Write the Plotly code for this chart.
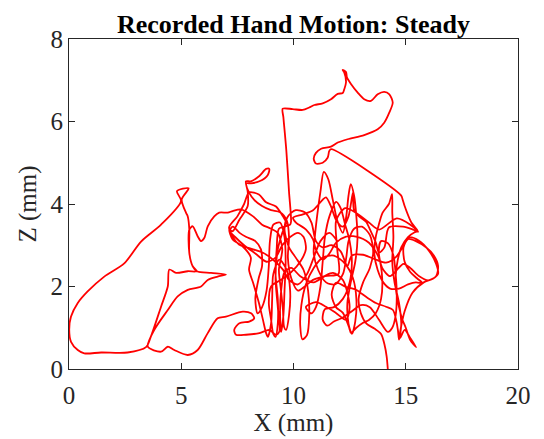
import plotly.graph_objects as go

# Recorded hand motion path (X mm, Z mm), in drawing order
seg_start = [
    (14.20, 0.00), (14.15, 0.30), (14.05, 0.60), (13.90, 0.85), (13.60, 0.98), (13.25, 1.10), (13.00, 1.35),
    (12.90, 1.70), (13.10, 2.10), (13.40, 2.45), (13.55, 2.85), (13.40, 3.25), (13.05, 3.45), (12.70, 3.40),
    (12.45, 3.10), (12.35, 2.70), (12.20, 2.30), (11.85, 2.05), (11.45, 2.10), (11.10, 2.40), (10.90, 2.80),
    (10.95, 3.20), (11.05, 3.70), (11.20, 4.30), (11.35, 4.78), (11.55, 4.60), (11.75, 4.10), (11.95, 3.60),
    (12.20, 3.30), (12.35, 3.70), (12.45, 4.20), (12.55, 4.48), (12.70, 4.20), (12.80, 3.70), (12.85, 3.15),
    (12.75, 2.60), (12.55, 2.10), (12.40, 1.60), (12.45, 1.10), (12.60, 0.85), (12.75, 1.15), (12.80, 1.70),
    (12.65, 2.20), (12.30, 2.55), (11.80, 2.75), (11.30, 2.70), (10.90, 2.45), (10.55, 2.05), (10.35, 1.55),
    (10.30, 1.05), (10.40, 0.72), (10.60, 0.82), (10.70, 1.30), (10.65, 1.90), (10.45, 2.40), (10.10, 2.70),
    (9.80, 2.95), (9.60, 3.40), (9.75, 3.70), (10.10, 3.85), (10.50, 3.80), (10.80, 3.55), (11.00, 3.10),
    (11.30, 2.95), (11.70, 3.00), (12.10, 2.85), (12.40, 2.50),
]
seg_weave = [
    (12.60, 2.75), (13.10, 2.77), (13.67, 2.65), (14.12, 2.58), (14.57, 2.72), (14.88, 2.97), (15.14, 3.19),
    (15.59, 3.11), (16.03, 2.87), (16.35, 2.55), (16.44, 2.31), (16.21, 2.19), (15.80, 2.10), (15.30, 1.85),
    (14.95, 1.40), (14.75, 0.90), (14.70, 0.71), (14.65, 0.95), (14.57, 1.19), (14.43, 1.43), (14.12, 1.51),
    (13.67, 1.60), (13.23, 1.75), (12.78, 1.92), (12.34, 1.99), (11.89, 2.09), (11.70, 1.80), (11.89, 1.50),
    (12.20, 1.36), (12.47, 1.02), (12.56, 0.88), (12.80, 1.00), (13.10, 1.12), (13.36, 1.19), (13.67, 1.36),
    (13.90, 1.70), (13.95, 2.20), (13.80, 2.70), (13.36, 3.06), (12.78, 3.21), (12.34, 3.21), (11.89, 3.06),
    (11.60, 2.80), (11.31, 2.65), (11.00, 2.89), (10.87, 3.14), (10.56, 3.38), (10.11, 3.55), (9.98, 3.67),
    (10.42, 3.75), (10.87, 3.85), (11.31, 4.11), (11.45, 4.16), (11.67, 3.94), (11.89, 3.62), (12.20, 3.45),
    (12.45, 3.70), (12.65, 4.28), (12.69, 3.87), (12.92, 3.70), (13.23, 3.57), (13.45, 3.33), (13.67, 3.06),
    (13.81, 2.82), (14.05, 2.95), (14.25, 3.43), (14.88, 3.45), (15.32, 3.38), (15.55, 3.33), (15.20, 3.50),
    (14.60, 3.65), (13.81, 3.38), (13.36, 3.55), (12.78, 3.79), (12.30, 3.90), (11.90, 3.60), (11.95, 2.90),
]
seg_a = [
    (12.00, 2.30), (11.40, 2.25), (10.90, 2.10), (10.30, 2.25), (9.90, 2.45), (9.60, 2.35), (9.45, 1.90),
    (9.40, 1.40), (9.45, 0.90), (9.55, 1.30), (9.60, 1.90), (9.65, 2.60), (9.60, 3.20), (9.40, 3.55),
    (9.10, 3.50), (8.95, 3.10), (8.90, 2.50), (8.80, 1.90), (8.60, 1.50), (8.40, 1.35), (8.30, 1.70),
    (8.45, 2.20), (8.60, 2.50), (8.55, 2.90), (8.30, 3.10), (7.90, 3.20), (7.60, 3.30), (7.30, 3.45),
    (7.15, 3.35), (7.40, 3.20), (7.80, 3.00), (8.30, 2.80), (8.80, 2.60), (9.20, 2.70), (9.50, 3.00),
    (9.85, 3.20), (10.20, 3.30), (10.45, 3.20), (10.55, 2.90), (10.30, 2.60), (9.90, 2.35), (9.40, 2.15),
    (9.00, 2.00), (8.90, 1.60), (9.00, 1.20), (9.10, 0.85), (9.20, 0.78), (9.30, 1.10), (9.30, 1.70),
    (9.20, 2.30), (9.25, 2.90), (9.35, 3.40), (9.60, 3.45), (9.85, 3.50), (9.89, 3.57),
]
seg_top = [
    (9.80, 4.30), (9.68, 5.30), (9.55, 6.10), (9.52, 6.31), (9.96, 6.30), (10.41, 6.28), (10.70, 6.34),
    (10.93, 6.40), (11.30, 6.44), (11.67, 6.54), (11.97, 6.67), (12.19, 6.69), (12.26, 6.78), (12.34, 6.95),
    (12.26, 7.19), (12.19, 7.25), (12.34, 7.20), (12.38, 7.07), (12.56, 6.91), (12.86, 6.70), (13.15, 6.54),
    (13.45, 6.50), (13.75, 6.66), (14.04, 6.72), (14.27, 6.66), (14.42, 6.46), (14.27, 6.22), (14.04, 5.97),
    (13.75, 5.81), (13.15, 5.67), (12.41, 5.57), (11.97, 5.49), (11.67, 5.39), (11.23, 5.34), (11.00, 5.24),
    (10.90, 5.10), (11.00, 4.98), (11.30, 5.00), (11.52, 5.12), (11.59, 5.28), (11.67, 5.33), (14.79, 4.21),
    (14.86, 4.11),
]
seg_right = [
    (14.95, 3.95), (15.25, 3.55), (15.53, 3.34), (15.38, 3.31), (15.10, 3.20), (14.80, 2.95), (14.60, 2.50),
    (14.55, 2.00), (14.70, 1.50), (14.85, 1.20), (15.00, 1.00), (15.20, 0.70), (15.46, 0.53), (15.20, 0.75),
    (14.95, 0.95), (14.75, 0.75), (14.80, 1.10), (14.70, 1.60), (14.50, 2.10), (14.40, 2.60), (14.45, 3.20),
    (14.40, 3.80), (14.39, 4.24), (14.25, 4.00), (13.97, 3.79), (13.80, 3.50), (13.67, 3.22), (13.60, 2.80),
    (13.75, 2.40), (14.00, 2.10), (14.30, 1.95), (14.70, 1.95), (15.10, 2.05), (15.45, 2.10), (15.75, 2.08),
    (15.50, 2.20), (15.20, 2.35), (14.95, 2.60), (14.90, 2.95), (15.10, 3.15), (15.45, 3.10), (15.90, 2.95),
    (16.25, 2.75), (16.44, 2.50), (16.35, 2.25), (16.00, 2.15), (15.60, 2.25), (15.20, 2.45), (14.90, 2.55),
    (14.60, 2.40), (14.30, 2.25), (13.95, 2.45), (13.80, 2.85), (13.90, 3.10), (14.20, 3.05), (14.45, 2.75),
    (14.55, 2.30), (14.60, 1.80), (14.55, 1.30), (14.40, 1.00), (14.20, 0.90), (13.80, 1.20), (13.40, 1.50),
    (13.00, 1.55), (12.60, 1.40), (12.20, 1.25), (11.80, 1.15), (11.50, 1.05), (11.30, 1.20), (11.40, 1.45),
    (11.80, 1.50), (12.20, 1.70), (12.50, 2.10), (12.60, 2.60), (12.50, 3.10), (12.30, 3.50), (12.10, 3.90),
    (11.90, 4.05), (11.60, 3.70), (11.40, 3.20), (11.30, 2.60), (11.20, 2.00), (11.00, 1.50), (10.80, 1.35),
    (10.55, 1.50), (11.00, 1.62), (11.45, 1.51), (11.89, 1.36), (12.34, 1.19), (12.50, 1.50), (12.20, 2.16),
    (11.76, 2.33), (11.31, 2.24), (10.87, 2.16), (10.50, 2.00),
]
seg_hook = [
    (10.20, 1.90), (9.90, 2.20), (9.75, 2.70), (9.80, 3.20), (9.70, 3.60), (9.40, 3.80), (9.00, 3.85),
    (8.60, 3.95), (8.25, 4.10), (8.03, 4.27), (7.90, 4.50), (8.10, 4.50), (8.48, 4.55), (8.85, 4.70),
    (8.92, 4.85), (8.78, 4.85), (8.48, 4.68), (8.10, 4.55), (7.88, 4.55), (7.96, 4.30), (7.96, 3.95),
    (7.59, 3.62), (7.29, 3.34), (7.14, 3.38), (7.29, 3.14), (7.74, 2.97), (8.10, 2.70), (8.02, 2.41),
    (8.20, 2.09), (8.33, 1.85), (8.46, 1.60), (8.64, 1.19), (8.78, 0.87), (8.86, 0.78), (9.00, 1.10),
    (9.05, 1.70), (9.10, 2.30), (9.37, 2.65), (9.70, 2.40), (9.85, 1.90), (9.80, 1.30), (9.67, 0.95),
    (9.58, 1.02), (9.53, 1.43), (9.44, 1.92), (9.35, 2.41), (9.50, 2.90), (9.30, 3.30), (9.00, 3.40),
    (8.60, 3.50), (8.20, 3.70), (7.66, 3.87),
]
seg_left = [
    (7.29, 3.83), (7.07, 3.79), (6.69, 3.79), (6.47, 3.70), (6.18, 3.46), (6.03, 3.18), (5.88, 3.10),
    (5.73, 3.22), (5.51, 3.46), (5.36, 3.38), (5.36, 2.81), (5.51, 2.49), (5.70, 2.37), (5.29, 2.37),
    (4.77, 2.33), (4.47, 2.41), (4.40, 2.00), (4.10, 1.51), (3.65, 0.79), (3.43, 0.53), (2.61, 0.40),
    (1.43, 0.40), (0.68, 0.38), (0.39, 0.46), (0.09, 0.66), (0.01, 0.95), (0.09, 1.27), (0.39, 1.60),
    (0.83, 1.88), (1.57, 2.24), (2.46, 2.56), (3.21, 3.09), (4.10, 3.50), (4.99, 4.07), (4.81, 4.31),
    (5.33, 4.38), (5.02, 4.11), (5.21, 3.79), (5.29, 3.70), (5.36, 3.38), (5.36, 2.81), (5.51, 2.49),
    (5.70, 2.37), (6.33, 2.33), (6.99, 2.29), (6.62, 2.24), (6.18, 2.16), (5.88, 2.00), (5.29, 1.92),
    (4.84, 1.76), (4.40, 1.43), (3.80, 0.95), (3.51, 0.54), (4.10, 0.42), (4.40, 0.54), (4.69, 0.46),
    (5.29, 0.34), (5.73, 0.46), (6.18, 0.87), (6.62, 1.23), (6.99, 1.27), (7.74, 1.39), (8.11, 1.35),
    (8.25, 1.23), (8.03, 1.15), (7.59, 1.11), (7.36, 0.95), (7.44, 0.83), (7.88, 0.83), (8.48, 0.87),
    (8.92, 0.95), (9.22, 0.83), (9.37, 0.91),
]
seg_end = [
    (9.30, 1.50), (9.20, 2.20), (9.30, 2.90), (9.50, 3.30), (9.67, 3.55), (9.53, 3.70), (9.22, 3.94),
    (8.78, 4.04), (8.46, 4.23), (8.02, 4.28), (7.80, 4.00), (7.50, 3.70), (7.13, 3.43), (7.31, 3.19),
    (7.57, 3.02), (8.20, 2.90), (8.64, 2.82), (9.09, 2.65), (9.53, 2.41), (9.80, 2.16), (10.20, 2.05),
    (10.60, 2.30), (10.90, 2.70), (11.20, 3.10), (11.60, 3.30), (11.95, 3.10),
]

segments = [seg_start, seg_weave, seg_a, seg_top, seg_right, seg_hook, seg_left, seg_end]
x_mm = [p[0] for s in segments for p in s]
z_mm = [p[1] for s in segments for p in s]

x_ticks = [0, 5, 10, 15, 20]
z_ticks = [0, 2, 4, 6, 8]

FONT = "Liberation Serif, Times New Roman, serif"
AX = "#262626"

fig = go.Figure()
fig.add_trace(go.Scatter(
    x=x_mm, y=z_mm, mode="lines",
    line=dict(color="#ff0000", width=1.8, shape="spline", smoothing=0.8),
    showlegend=False, hoverinfo="skip",
))

axis_common = dict(
    showgrid=False, zeroline=False, showline=True, mirror="ticks", automargin=False,
    linecolor=AX, linewidth=1.2, ticks="inside", ticklen=6, tickwidth=1.2,
    tickcolor=AX, tickfont=dict(family=FONT, size=25, color="#262626"),
)

fig.update_layout(
    width=536, height=431,
    margin=dict(l=61, r=26, t=31, b=70),
    paper_bgcolor="white", plot_bgcolor="white",
    title=dict(text="<b>Recorded Hand Motion: Steady</b>", x=0.5, xref="paper",
               xanchor="center", y=0.962, yanchor="middle",
               font=dict(family=FONT, size=26, color="black")),
    xaxis=dict(range=[0, 20], tickvals=x_ticks, ticklabelstandoff=4, **axis_common,
               title=dict(text="X (mm)", standoff=3,
                          font=dict(family=FONT, size=25, color="#262626"))),
    yaxis=dict(range=[0, 8], tickvals=z_ticks, **axis_common,
               title=dict(text="Z (mm)", standoff=6,
                          font=dict(family=FONT, size=25, color="#262626"))),
)

fig.write_html("out.html")
